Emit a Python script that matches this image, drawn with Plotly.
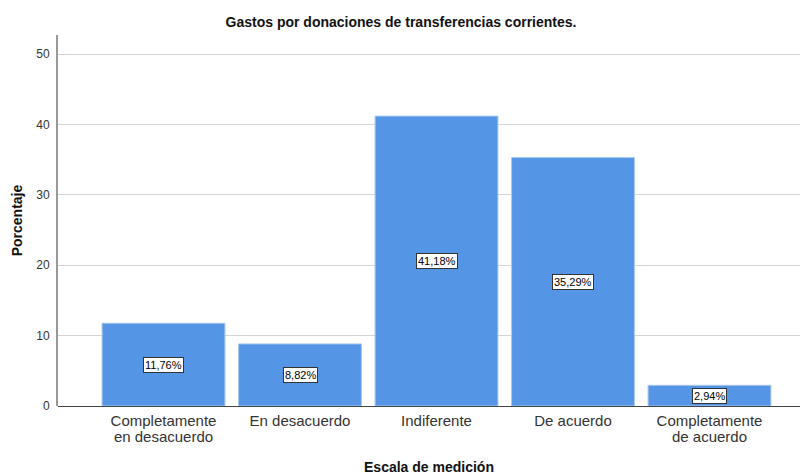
import plotly.graph_objects as go

# etiquetas del eje x en dos renglones (el segundo va en un eje superpuesto)
categorias_l1 = ["Completamente", "En desacuerdo", "Indiferente", "De acuerdo", "Completamente"]
categorias_l2 = ["en desacuerdo", "", "", "", "de acuerdo"]
porcentajes = [11.76, 8.82, 41.18, 35.29, 2.94]
etiquetas = ["11,76%", "8,82%", "41,18%", "35,29%", "2,94%"]
y_ticks = [0, 10, 20, 30, 40, 50]

x_pos = list(range(len(categorias_l1)))
x_range = [-0.773, 4.663]

fig = go.Figure()

fig.add_trace(go.Bar(
    x=x_pos, y=porcentajes,
    width=0.9,
    marker=dict(color='#5595e5', line=dict(color='#a8c8f0', width=1)),
    hoverinfo='skip',
    showlegend=False
))

# traza invisible para que se dibuje el segundo eje x
fig.add_trace(go.Scatter(
    x=x_pos, y=porcentajes, xaxis='x2',
    mode='markers', marker=dict(opacity=0),
    hoverinfo='skip', showlegend=False
))

# etiquetas en cajas blancas, centradas en cada barra
for xi, v, t in zip(x_pos, porcentajes, etiquetas):
    fig.add_annotation(
        x=xi, y=v / 2, text=t, showarrow=False,
        font=dict(size=11, color='#000000'),
        bgcolor='#ffffff', bordercolor='#333333', borderwidth=1, borderpad=1
    )

tick_font = dict(size=15, color='#333333')

fig.update_layout(
    width=802, height=475,
    paper_bgcolor='#ffffff',
    plot_bgcolor='#ffffff',
    font=dict(family='Liberation Sans, Arial, sans-serif', color='#222222'),
    margin=dict(l=58, r=2, t=35, b=69, autoexpand=False),
    title=dict(text='<b>Gastos por donaciones de transferencias corrientes.</b>',
               x=0.5, xanchor='center', y=0.954, yanchor='middle',
               font=dict(size=14, color='#111111')),
    xaxis=dict(
        tickmode='array', tickvals=x_pos, ticktext=categorias_l1,
        range=x_range,
        showgrid=False, zeroline=False,
        showline=False, ticks='', ticklabelstandoff=4,
        automargin=False,
        tickfont=tick_font,
        title=dict(text='<b>Escala de medición</b>', font=dict(size=14, color='#111111'),
                   standoff=35)
    ),
    xaxis2=dict(
        overlaying='x', side='bottom', anchor='y',
        tickmode='array', tickvals=x_pos, ticktext=categorias_l2,
        range=x_range,
        showgrid=False, zeroline=False,
        showline=False, ticks='', ticklabelstandoff=20,
        automargin=False,
        tickfont=tick_font
    ),
    yaxis=dict(
        range=[0, 52.7],
        tickmode='array', tickvals=y_ticks,
        showgrid=True, gridcolor='#d4d4d4', gridwidth=1,
        zeroline=True, zerolinecolor='#444444', zerolinewidth=1,
        showline=True, linecolor='#999999', linewidth=2,
        ticks='', ticklabelstandoff=4,
        automargin=False,
        tickfont=dict(size=12, color='#333333'),
        title=dict(text='<b>Porcentaje</b>', font=dict(size=14, color='#111111'),
                   standoff=10)
    ),
    bargap=0.1
)

# quitar el margen por defecto del body para que el gráfico quede en (0, 0)
fig.write_html("out.html", config={'displayModeBar': False},
               post_script="document.body.style.margin='0';")
